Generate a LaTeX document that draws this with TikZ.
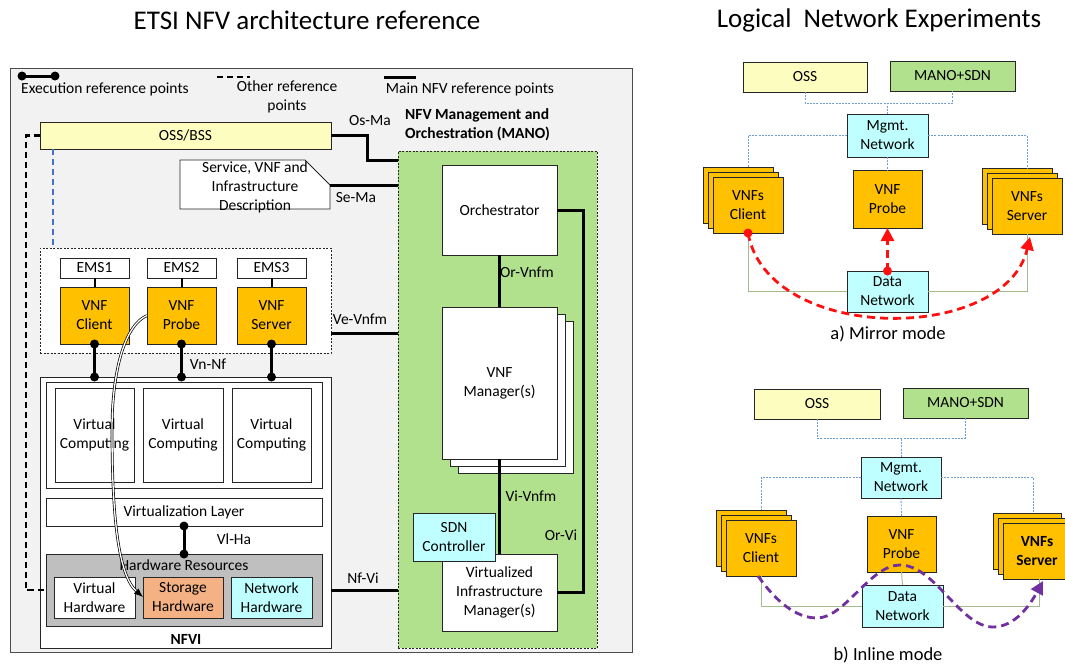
\documentclass[tikz,border=0pt]{standalone}
\usepackage{fontspec}
\setmainfont{Carlito}
\usetikzlibrary{arrows.meta,calc}
\definecolor{bggray}{HTML}{F2F2F2}
\definecolor{ossy}{HTML}{FDFDBF}
\definecolor{manog}{HTML}{B2E18E}
\definecolor{vnfo}{HTML}{FFC000}
\definecolor{cyanb}{HTML}{C0FFFF}
\definecolor{storo}{HTML}{F4B183}
\definecolor{hwgray}{HTML}{BFBFBF}
\definecolor{bluedash}{HTML}{4472C4}
\definecolor{mgmtline}{HTML}{6E9ECF}
\definecolor{dataline}{HTML}{A3BC8E}
\definecolor{purp}{HTML}{7030A0}
\definecolor{reda}{HTML}{FF1010}
\newcommand{\fs}{\fontsize{15.5}{19}\selectfont}
\newcommand{\titlefs}{\fontsize{27}{30}\selectfont}
\newcommand{\capfs}{\fontsize{18.5}{22}\selectfont}
\newcommand{\bx}[7]{\node[#6, minimum width={(#4-#2)*1pt}, minimum height={(#5-#3)*1pt}] (#1) at ({(#2+#4)/2},{(#3+#5)/2}) {#7};}
\tikzset{
  box/.style={draw=black!85, line width=0.9pt, inner sep=0pt, outer sep=0pt, align=center, font=\fs},
  lbl/.style={font=\fs, inner sep=0pt},
  thickline/.style={line width=3pt, line join=miter},
  ethick/.style={line width=3pt},
  otherdash/.style={line width=2.6pt, dash pattern=on 6pt off 4pt},
  mgl/.style={draw=mgmtline, line width=0.8pt, dash pattern=on 2pt off 1.2pt},
  dl/.style={draw=dataline, line width=0.9pt},
}
\begin{document}
\begin{tikzpicture}[x=1pt,y=-1pt]
\useasboundingbox (0,0) rectangle (1065,667);
\fill[white] (0,0) rectangle (1065,667);

% titles
\node[font=\titlefs] (t1) at (307,20) {ETSI NFV architecture reference};
\node[font=\titlefs] (t2) at (879,20) {Logical\ \ Network Experiments};

% outer box
\bx{outer}{10}{68}{632}{652}{draw=black!70, line width=1pt, fill=bggray}{}

% legend
\coordinate (le1) at (22,76); \coordinate (le2) at (55,76);
\draw[ethick] (le1) -- (le2);
\fill (le1) circle (4.5); \fill (le2) circle (4.5);
\node[lbl] (lt1) at (105,89) {Execution reference points};
\coordinate (lo1) at (217,77); \coordinate (lo2) at (250,77);
\draw[otherdash] (lo1) -- (lo2);
\node[lbl, align=center] (lt2) at (287,97) {Other reference\\points};
\coordinate (lm1) at (384,77); \coordinate (lm2) at (416,77);
\draw[ethick] (lm1) -- (lm2);
\node[lbl] (lt3) at (470,89) {Main NFV reference points};

% OSS/BSS
\bx{oss}{40}{122}{331}{149}{box, fill=ossy}{OSS/BSS}

% Service description
\coordinate (sdr) at (330,185);
\draw[draw=black!85, line width=0.9pt, fill=white] (180,160) -- (305,160) -- (sdr) -- (330,209) -- (180,209) -- cycle;
\node[lbl, align=center] (sdtext) at (255,187) {Service, VNF and\\Infrastructure\\Description};

% MANO
\node[font=\fs\bfseries, align=left, anchor=north west, inner sep=0pt] (manot) at (405,108) {NFV Management and\\Orchestration (MANO)};
\bx{mano}{398}{151}{597}{648}{draw=black!85, line width=0.8pt, dash pattern=on 2pt off 1.5pt, fill=manog}{}
\bx{orch}{442}{165}{557}{255}{box, fill=white}{Orchestrator}
\bx{vnfm3}{458}{321}{573}{473}{box, fill=white}{}
\bx{vnfm2}{450}{314}{565}{466}{box, fill=white}{}
\bx{vnfm}{442}{307}{557}{459}{box, fill=white}{VNF\\Manager(s)}
\bx{vim}{442}{554}{557}{631}{box, fill=white}{Virtualized\\Infrastructure\\Manager(s)}
\bx{sdn}{413}{513}{495}{561}{box, fill=cyanb}{SDN\\Controller}

\draw[thickline] (orch.south) -- (vnfm.north);
\node[lbl] (lorv) at (527,272) {Or-Vnfm};
\draw[thickline] (vnfm.south) -- (vim.north);
\node[lbl] (lviv) at (531,496) {Vi-Vnfm};
\draw[thickline] (orch.east) -- ++(26,0) |- (vim.east);
\node[lbl] (lorvi) at (561,535) {Or-Vi};

% OSS connections
\draw[thickline] (oss.east) -- ++(36,0) |- (mano.west |- 0,160);
\node[lbl] (losma) at (370,121) {Os-Ma};
\draw[thickline] (sdr) -- (mano.west |- sdr);
\node[lbl] (lsema) at (356,198) {Se-Ma};

% VNF group
\bx{vnfg}{40}{248}{331}{353}{draw=black!85, line width=0.8pt, dash pattern=on 2pt off 1.5pt, fill=white}{}
\bx{ems1}{60}{258}{129}{278}{box, fill=white}{EMS1}
\bx{ems2}{147}{258}{216}{278}{box, fill=white}{EMS2}
\bx{ems3}{237}{258}{306}{278}{box, fill=white}{EMS3}
\bx{vnf1}{60}{287}{129}{344}{box, fill=vnfo}{VNF\\Client}
\bx{vnf2}{147}{287}{216}{344}{box, fill=vnfo}{VNF\\Probe}
\bx{vnf3}{237}{287}{306}{344}{box, fill=vnfo}{VNF\\Server}
\draw[line width=2pt] (ems1) -- (vnf1);
\draw[line width=2pt] (ems2) -- (vnf2);
\draw[line width=2pt] (ems3) -- (vnf3);

\draw[thickline] (vnfg.east |- 0,333) -- (mano.west |- 0,333);
\node[lbl] (lvev) at (360,319) {Ve-Vnfm};

% NFVI
\bx{nfvi}{40}{377}{331}{648}{box, fill=white}{}
\node[font=\fs\bfseries, inner sep=0pt] (nfvit) at (186,639) {NFVI};
\bx{vcg}{46}{382}{322}{488}{box, fill=white}{}
\bx{vc1}{55}{388}{134}{482}{box, fill=white}{Virtual\\Computing}
\bx{vc2}{143}{388}{223}{482}{box, fill=white}{Virtual\\Computing}
\bx{vc3}{232}{388}{311}{482}{box, fill=white}{Virtual\\Computing}
\bx{vl}{46}{498}{322}{526}{box, fill=white}{Virtualization Layer}
\bx{hw}{46}{554}{322}{626}{box, fill=hwgray}{}
\node[lbl] (hwt) at (184,565) {Hardware Resources};
\bx{vh}{54}{577}{135}{618}{box, fill=white}{Virtual\\Hardware}
\bx{sh}{143}{577}{223}{618}{box, fill=storo}{Storage\\Hardware}
\bx{nh}{231}{577}{312}{618}{box, fill=cyanb}{Network\\Hardware}

% Vn-Nf
\foreach \v in {vnf1,vnf2,vnf3}{
  \draw[thickline] (\v.south) -- (\v.south |- nfvi.north);
  \fill (\v.south) circle (4.5);
  \fill (\v.south |- nfvi.north) circle (4.5);
}
\node[lbl] (lvnnf) at (208,364) {Vn-Nf};

% Vl-Ha
\draw[thickline] (vl.south) -- (hw.north);
\fill (vl.south) circle (4.5); \fill (hw.north) circle (4.5);
\node[lbl] (lvlha) at (234,539) {Vl-Ha};

% Nf-Vi
\draw[thickline] (nfvi.east |- 0,590) -- (mano.west |- 0,590);
\node[lbl] (lnfvi) at (363,578) {Nf-Vi};

% other reference points
\draw[otherdash] (oss.west) -- ++(-14,0) |- (hw.west |- 0,590);
\draw[draw=bluedash, line width=2.4pt, dash pattern=on 6pt off 4pt] (oss.south -| 53,0) -- (vnfg.north -| 53,0);

% probe to storage double arrow
\draw[double=white, double distance=1.3pt, line width=0.7pt, -{Latex[length=9pt,width=7pt]}]
  (vnf2.west) .. controls (125,325) and (112,370) .. (112,430)
  .. controls (112,515) and (118,575) .. (sh.west |- 0,597);

% ================= Right side: Mirror mode =================
\bx{ossA}{743}{62}{867}{92}{box, fill=ossy}{OSS}
\bx{manoA}{890}{61}{1015}{91}{box, fill=manog}{MANO+SDN}
\bx{mgmtA}{847}{114}{928}{157}{box, fill=cyanb}{Mgmt.\\Network}
\bx{clA1}{703}{167}{773}{223}{box, fill=vnfo}{}
\bx{clA2}{708}{172}{778}{228}{box, fill=vnfo}{}
\bx{clA}{713}{177}{783}{233}{box, fill=vnfo}{VNFs\\Client}
\bx{prA}{853}{170}{922}{228}{box, fill=vnfo}{VNF\\Probe}
\bx{svA1}{982}{168}{1052}{224}{box, fill=vnfo}{}
\bx{svA2}{987}{173}{1057}{229}{box, fill=vnfo}{}
\bx{svA}{992}{178}{1062}{234}{box, fill=vnfo}{VNFs\\Server}
\bx{dataA}{847}{271}{928}{312}{box, fill=cyanb}{Data\\Network}

\draw[mgl] (ossA.south) |- (mgmtA.north |- 0,103) -| (manoA.south);
\draw[mgl] (mgmtA.north) -- (mgmtA.north |- 0,103);
\draw[mgl] (mgmtA.west) -| (clA.north |- clA1.north);
\draw[mgl] (mgmtA.east) -| (svA.north |- svA1.north);
\draw[mgl] (mgmtA.south) -- (prA.north);
\draw[dl] (dataA.west) -| (clA.south);
\draw[dl] (dataA.east) -| (svA.south);

\draw[draw=reda, line width=2.8pt, dash pattern=on 8pt off 5pt, -{Triangle[length=13pt,width=13pt]}]
  (clA.south) .. controls (768,344) and (1005,344) .. ($(svA.south)+(3,3)$);
\fill[reda] (clA.south) circle (4.5);
\draw[draw=reda, line width=2.8pt, dash pattern=on 8pt off 5pt, -{Triangle[length=13pt,width=13pt]}]
  (dataA.north) -- (prA.south);
\fill[reda] (dataA.north) circle (4.5);
\node[font=\capfs, inner sep=0pt] (capA) at (888,334) {a) Mirror mode};

% ================= Right side: Inline mode =================
\bx{ossB}{754}{389}{880}{419}{box, fill=ossy}{OSS}
\bx{manoB}{903}{388}{1028}{418}{box, fill=manog}{MANO+SDN}
\bx{mgmtB}{861}{457}{941}{498}{box, fill=cyanb}{Mgmt.\\Network}
\bx{clB1}{716}{510}{786}{566}{box, fill=vnfo}{}
\bx{clB2}{721}{515}{791}{571}{box, fill=vnfo}{}
\bx{clB}{726}{520}{796}{576}{box, fill=vnfo}{VNFs\\Client}
\bx{prB}{867}{516}{936}{572}{box, fill=vnfo}{VNF\\Probe}
\bx{svB1}{993}{513}{1061}{569}{box, fill=vnfo}{}
\bx{svB2}{998}{518}{1066}{574}{box, fill=vnfo}{}
\bx{svB}{1003}{523}{1071}{579}{box, fill=vnfo, font=\fs\bfseries}{VNFs\\Server}
\bx{dataB}{862}{585}{943}{627}{box, fill=cyanb}{Data\\Network}

\draw[mgl] (ossB.south) |- (mgmtB.north |- 0,438) -| (manoB.south);
\draw[mgl] (mgmtB.north) -- (mgmtB.north |- 0,438);
\draw[mgl] (mgmtB.west) -| (clB.north |- clB1.north);
\draw[mgl] (mgmtB.east) -| (1033,0 |- svB1.north);
\draw[mgl] (mgmtB.south) -- (prB.north);
\draw[dl] (dataB.west) -| (clB.south);
\draw[dl] (dataB.east) -| (1039,0 |- svB.south);
\draw[dl] (prB.south) -- (dataB.north);

\draw[draw=purp, line width=2.8pt, dash pattern=on 8pt off 5pt, -{Triangle[length=13pt,width=13pt]}]
  ($(clB.south)+(-3,0)$) .. controls (775,600) and (795,618) .. (817,618)
  .. controls (845,618) and (870,565) .. (900,565)
  .. controls (935,565) and (960,627) .. (993,627)
  .. controls (1015,627) and (1030,605) .. (1043,581);
\node[font=\capfs, inner sep=0pt] (capB) at (888,655) {b) Inline mode};
\end{tikzpicture}
\end{document}
